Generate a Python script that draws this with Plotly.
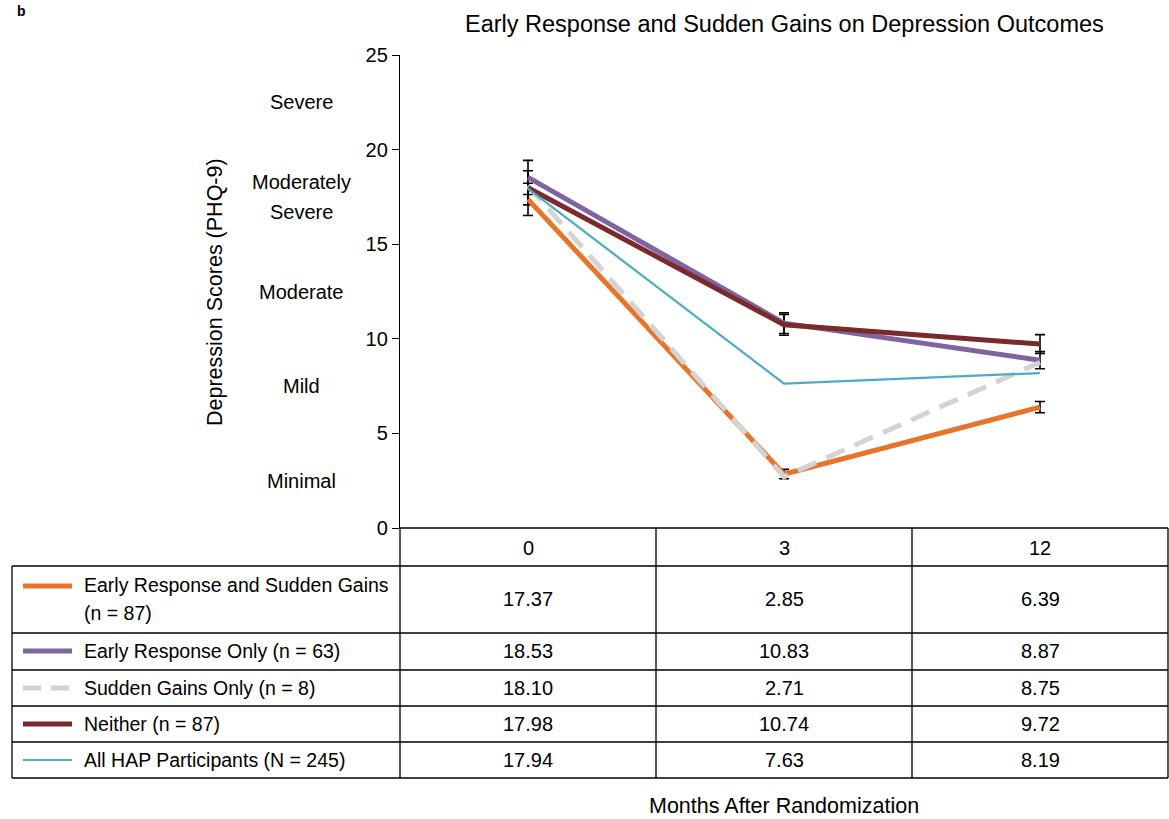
import plotly.graph_objects as go

W, H = 1169, 819

months = ["0", "3", "12"]
series_names = [
    "Early Response and Sudden Gains<br>(n = 87)",
    "Early Response Only (n = 63)",
    "Sudden Gains Only (n = 8)",
    "Neither (n = 87)",
    "All HAP Participants (N = 245)",
]
ersg = [17.37, 2.85, 6.39]
er_only = [18.53, 10.83, 8.87]
sg_only = [18.10, 2.71, 8.75]
neither = [17.98, 10.74, 9.72]
all_hap = [17.94, 7.63, 8.19]
series_values = [ersg, er_only, sg_only, neither, all_hap]

# error bar half-widths
ersg_err = [0.85, 0.25, 0.3]
er_only_err = [0.9, 0.55, 0.45]
neither_err = [0.9, 0.55, 0.5]

severity_labels = ["Severe", "Moderately<br>Severe", "Moderate", "Mild", "Minimal"]
severity_pos = [22.5, 17.5, 12.5, 7.5, 2.5]
y_ticks = [0, 5, 10, 15, 20, 25]

colors = ["#E8742A", "#8064A2", "#D3D3D3", "#7A2A2A", "#4BACC6"]
widths = [5, 5, 5, 5, 2.2]
dashes = ["solid", "solid", "dash", "solid", "solid"]

FONT = "Liberation Sans, Arial, sans-serif"


def px(x):
    return x / W


def py(y):
    return 1 - y / H


xi = [0, 1, 2]
fig = go.Figure()

# error bars (drawn beneath lines)
for vals, errs in [(ersg, ersg_err), (er_only, er_only_err), (neither, neither_err)]:
    fig.add_trace(go.Scatter(
        x=xi, y=vals, mode="markers",
        marker=dict(size=1, color="rgba(0,0,0,0)"),
        error_y=dict(type="data", array=errs, visible=True, color="black", thickness=1.6, width=5),
        showlegend=False, hoverinfo="skip"))

# lines
for name, vals, c, w, d in zip(series_names, series_values, colors, widths, dashes):
    fig.add_trace(go.Scatter(
        x=xi, y=vals, mode="lines", name=name.replace("<br>", " "),
        line=dict(color=c, width=w, dash="solid" if d == "solid" else "20px,11px"),
        showlegend=False))

shapes = []
LC = "black"
LW = 1.3
# table horizontal lines
shapes.append(dict(type="line", xref="paper", yref="paper", x0=px(400), x1=px(1168), y0=py(528), y1=py(528), line=dict(color=LC, width=LW)))
for yy in [566, 633, 670, 706, 742, 778]:
    shapes.append(dict(type="line", xref="paper", yref="paper", x0=px(12), x1=px(1168), y0=py(yy), y1=py(yy), line=dict(color=LC, width=LW)))
shapes.append(dict(type="line", xref="paper", yref="paper", x0=px(12), x1=px(12), y0=py(566), y1=py(778), line=dict(color=LC, width=LW)))
for xx in [400, 656, 912, 1168]:
    shapes.append(dict(type="line", xref="paper", yref="paper", x0=px(xx), x1=px(xx), y0=py(528), y1=py(778), line=dict(color=LC, width=LW)))

# legend swatches in table
sw_y = [586, 651, 688, 724, 760]
for c, w, d, yy in zip(colors, widths, dashes, sw_y):
    if d == "solid":
        shapes.append(dict(type="line", xref="paper", yref="paper", x0=px(23), x1=px(72), y0=py(yy), y1=py(yy),
                           line=dict(color=c, width=w)))
    else:
        shapes.append(dict(type="line", xref="paper", yref="paper", x0=px(23), x1=px(41), y0=py(yy), y1=py(yy), line=dict(color=c, width=w)))
        shapes.append(dict(type="line", xref="paper", yref="paper", x0=px(51), x1=px(69), y0=py(yy), y1=py(yy), line=dict(color=c, width=w)))

annotations = []


def txt(text, x, y, size=20, xanchor="center", yref="paper", **kw):
    annotations.append(dict(text=text, x=x, y=y, xref="paper", yref=yref, showarrow=False,
                            font=dict(family=FONT, size=size, color="black"),
                            xanchor=xanchor, yanchor="middle", **kw))


# header row
col_centers = [528, 784, 1040]
for m, cx in zip(months, col_centers):
    txt(m, px(cx), py(548))

# rows
row_centers = [599, 651, 688, 724, 760]
for name, vals, rc in zip(series_names, series_values, row_centers):
    parts = name.split("<br>")
    if len(parts) == 1:
        txt(parts[0], px(82), py(rc), size=19.5, xanchor="left")
    else:
        for i, p in enumerate(parts):
            txt(p, px(82), py(rc - 14 + 28 * i), size=19.5, xanchor="left")
    for v, cx in zip(vals, col_centers):
        txt(f"{v:.2f}", px(cx), py(rc))

# severity labels (each line placed separately to match line spacing)
for lab, pos in zip(severity_labels, severity_pos):
    parts = lab.split("<br>")
    if len(parts) == 1:
        txt(lab, px(301), pos, yref="y")
    else:
        for i, p in enumerate(parts):
            txt(p, px(301), pos + 0.78 - 1.56 * i, yref="y")

# axis titles
txt("Depression Scores (PHQ-9)", px(215), py(292), size=21.5, textangle=-90)
txt("Months After Randomization", px(784), py(806), size=21.5)
# chart title
txt("Early Response and Sudden Gains on Depression Outcomes", px(784), py(24), size=23.5)
# panel label
annotations.append(dict(text="<b>b</b>", x=px(21), y=py(11), xref="paper", yref="paper", showarrow=False,
                        font=dict(family=FONT, size=14, color="black"), xanchor="center", yanchor="middle"))

fig.update_layout(
    width=W, height=H,
    margin=dict(l=0, r=0, t=0, b=0, autoexpand=False),
    paper_bgcolor="white", plot_bgcolor="white",
    showlegend=False,
    shapes=shapes, annotations=annotations,
    xaxis=dict(domain=[px(400), px(1168)], range=[-0.5, 2.5], showticklabels=False, showgrid=False, zeroline=False,
               showline=False, ticks="", fixedrange=True),
    yaxis=dict(domain=[py(528), py(55)], range=[0, 25], tickvals=y_ticks, ticks="outside", ticklen=7, tickcolor="black",
               tickwidth=1.2, showline=True, linecolor="black", linewidth=1.3, showgrid=False, zeroline=False,
               automargin=False,
               tickfont=dict(family=FONT, size=20, color="black"), fixedrange=True),
)

fig.write_html("out.html")
